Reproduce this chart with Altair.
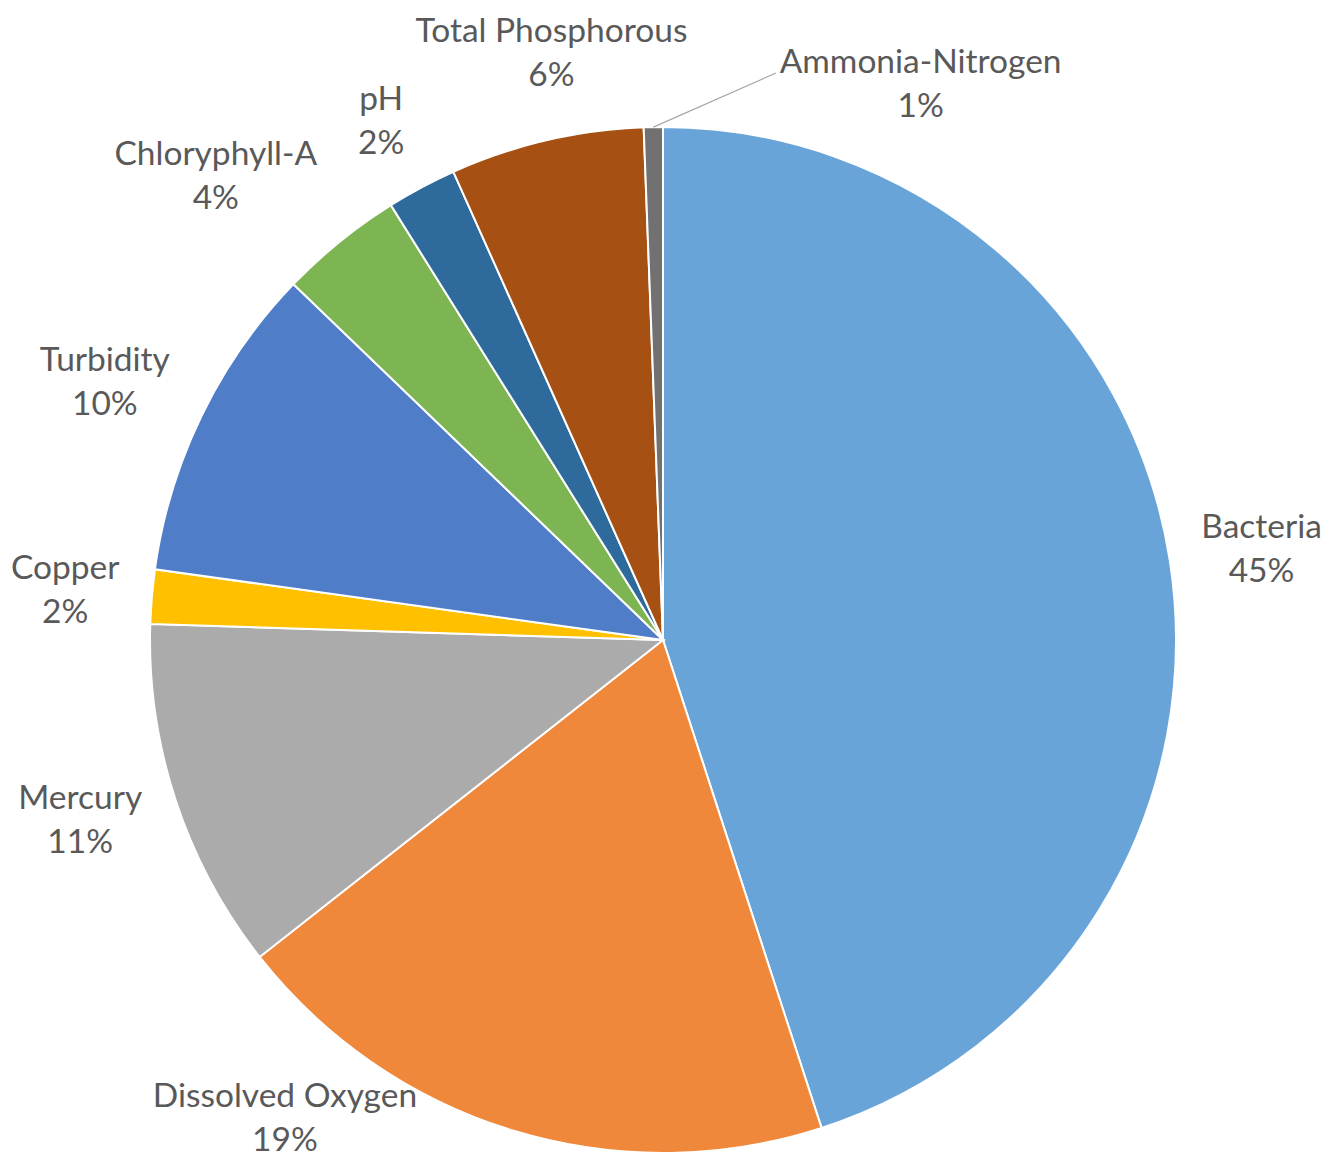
import math
import altair as alt
import pandas as pd

categories = ["Bacteria", "Dissolved Oxygen", "Mercury", "Copper", "Turbidity",
              "Chloryphyll-A", "pH", "Total Phosphorous", "Ammonia-Nitrogen"]
values = [45.0, 19.4, 11.1, 1.7, 10.0, 3.9, 2.2, 6.1, 0.6]
pct_labels = ["45%", "19%", "11%", "2%", "10%", "4%", "2%", "6%", "1%"]
colors = ["#69A4D9", "#EF883B", "#ABABAB", "#FFC000", "#4F7DC8",
          "#7EB553", "#2E6A9B", "#A65113", "#717171"]

df = pd.DataFrame({
    "category": categories,
    "value": values,
    "pct": pct_labels,
    "order": list(range(len(categories))),
})
df["label"] = df["category"] + "\n" + df["pct"]

total = float(sum(values))
CX, CY, R = 655, 632, 513
LABEL_R = 605
W, H = 1323, 1151
FONT = "Lato"
FS = 33.5
TXT = "#595959"
LINE_SHIFT = -22  # first line sits half a line above the block centre

theta_scale = alt.Scale(domain=[0, total], range=[0, 2 * math.pi])

pie = alt.Chart(df).mark_arc(outerRadius=R, stroke="white", strokeWidth=2).encode(
    theta=alt.Theta("value:Q", stack=True, scale=theta_scale),
    order=alt.Order("order:Q"),
    color=alt.Color("category:N", scale=alt.Scale(domain=categories, range=colors), legend=None),
    x=alt.value(CX),
    y=alt.value(CY),
)

# label nudges (dx, dy) in pixels, mimicking the spreadsheet's best-fit placement
nudges = {
    "Bacteria": (1, 5),
    "Dissolved Oxygen": (-202, -100),
    "Mercury": (-8, -8),
    "Copper": (5, 2),
    "Turbidity": (-14, 7),
    "Chloryphyll-A": (-66, 7),
    "pH": (3, 16),
    "Total Phosphorous": (26, 3),
    "Ammonia-Nitrogen": (269, 50),
}


def with_mid(chart):
    return chart.transform_window(
        cum="sum(value)", sort=[alt.SortField("order")]
    ).transform_calculate(mid="datum.cum - datum.value / 2")


layers = [pie]
for cat, (dx, dy) in nudges.items():
    lay = with_mid(alt.Chart(df)).transform_filter(alt.datum.category == cat).mark_text(
        radius=LABEL_R, dx=dx, dy=dy + LINE_SHIFT, lineBreak="\n", font=FONT, fontSize=FS,
        color=TXT, align="center", baseline="middle", lineHeight=44,
    ).encode(
        theta=alt.Theta("mid:Q", scale=theta_scale),
        text="label:N",
        x=alt.value(CX),
        y=alt.value(CY),
    )
    layers.append(lay)

leader = with_mid(alt.Chart(df)).transform_filter(
    alt.datum.category == "Ammonia-Nitrogen"
).transform_calculate(
    lx=f"{CX} + {R} * sin(datum.mid / {total} * 2 * PI)",
    ly=f"{CY} - {R} * cos(datum.mid / {total} * 2 * PI)",
).mark_rule(color="#A6A6A6", strokeWidth=1.2).encode(
    x=alt.X("lx:Q", scale=None, axis=None),
    y=alt.Y("ly:Q", scale=None, axis=None),
    x2=alt.value(768),
    y2=alt.value(65),
)
layers.append(leader)

chart = alt.layer(*layers).properties(
    width=W, height=H, padding=0, autosize=alt.AutoSizeParams(type="none"),
).configure_view(stroke=None)

chart.save("out.html", embed_options={"renderer": "svg", "actions": False})
